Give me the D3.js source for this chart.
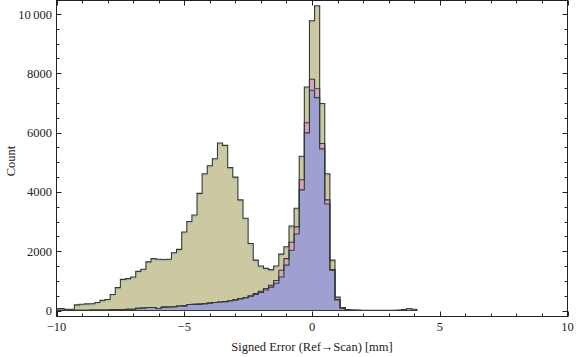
<!DOCTYPE html>
<html>
<head>
<meta charset="utf-8">
<script src="https://cdn.jsdelivr.net/npm/d3@7"></script>
<style>
  body { margin: 0; background: #fff; }
  text { font-family: "Liberation Serif", "DejaVu Serif", serif; fill: #222; }
</style>
</head>
<body>
<div id="chart"></div>
<script>
// histogram bins: centers at -10, -9.8, ... 4.0 (width 0.2)
const binWidth = 0.2;
const binFirst = -10;

// counts per bin
const countsAll = [
  70, 70, 40, 40, 190, 210, 225, 230, 270, 340,
  370, 540, 770, 1050, 1075, 1130, 1320, 1390, 1640, 1750,
  1730, 1720, 1730, 1950, 2060, 2650, 3000, 3220, 3950, 4610,
  4880, 5120, 5650, 5570, 4820, 4500, 3730, 3110, 2260, 1700,
  1500, 1420, 1380, 1500, 1900, 2150, 2850, 3450, 5200, 7540,
  9770, 10280, 6980, 4610, 1700, 450, 90, 35, 12, 6,
  4, 3, 3, 3, 4, 5, 6, 12, 30, 70,
  40
];
const countsPink = [
  10, 10, 10, 10, 10, 10, 10, 12, 12, 15,
  15, 35, 35, 35, 40, 40, 75, 85, 100, 100,
  70, 115, 120, 125, 150, 155, 200, 205, 215, 230,
  250, 270, 285, 300, 330, 360, 400, 430, 500, 570,
  650, 740, 850, 1010, 1360, 1750, 2300, 2820, 4410, 6330,
  7800, 7480, 5630, 3730, 1380, 370, 87, 31, 10, 4,
  2, 1, 1, 1, 1, 1, 1, 1, 1, 1,
  1
];
const countsBlue = [
  10, 10, 10, 10, 10, 10, 10, 12, 12, 15,
  15, 35, 35, 35, 40, 40, 75, 85, 100, 100,
  70, 115, 120, 125, 150, 155, 200, 205, 215, 230,
  250, 270, 285, 300, 330, 360, 400, 430, 480, 540,
  610, 690, 790, 920, 1130, 1530, 2030, 2580, 4070, 5990,
  7430, 7180, 5450, 3590, 1360, 360, 85, 30, 10, 4,
  2, 1, 1, 1, 1, 1, 1, 1, 1, 1,
  1
];

const xMajor = [-10, -5, 0, 5, 10];
const xMajorLabels = ["\u221210", "\u22125", "0", "5", "10"];
const xMinor = [-9, -8, -7, -6, -4, -3, -2, -1, 1, 2, 3, 4, 6, 7, 8, 9];
const yMajor = [0, 2000, 4000, 6000, 8000, 10000];
const yMajorLabels = ["0", "2000", "4000", "6000", "8000", "10\u2009000"];
const yMinor = [500, 1000, 1500, 2500, 3000, 3500, 4500, 5000, 5500, 6500, 7000, 7500, 8500, 9000, 9500];

const W = 576, H = 357;
const frame = { left: 56.5, right: 567.5, top: 0.5, bottom: 316.5 };

const svg = d3.select("#chart").append("svg")
    .attr("width", W)
    .attr("height", H);

const x = d3.scaleLinear().domain([-10, 10]).range([56.5, 567.5]);
const y = d3.scaleLinear().domain([0, 10000]).range([310.5, 14]);

svg.append("clipPath").attr("id", "clip")
  .append("rect")
    .attr("x", frame.left).attr("y", frame.top)
    .attr("width", frame.right - frame.left)
    .attr("height", frame.bottom - frame.top);

function steps(counts) {
    let pts = [];
    counts.forEach(function (v, i) {
        let c = binFirst + i * binWidth;
        pts.push([c - binWidth / 2, v]);
        pts.push([c + binWidth / 2, v]);
    });
    return pts;
}

const area = d3.area()
    .x(function (d) { return x(d[0]); })
    .y0(y(0))
    .y1(function (d) { return y(d[1]); });

const outline = d3.line()
    .x(function (d) { return x(d[0]); })
    .y(function (d) { return y(d[1]); });

function closed(pts) {
    let first = pts[0][0], last = pts[pts.length - 1][0];
    return [[first, 0]].concat(pts, [[last, 0], [first, 0]]);
}

const g = svg.append("g").attr("clip-path", "url(#clip)");

const series = [
    { counts: countsAll, fill: "#ccc8a2" },
    { counts: countsPink, fill: "#d5a4c4" },
    { counts: countsBlue, fill: "#a09fd2" }
];

series.forEach(function (s, si) {
    let pts = steps(s.counts);
    g.append("path")
        .attr("d", area(pts))
        .attr("fill", s.fill);
    if (si === 0) {
        // light green rim under the top edge of each bar
        g.selectAll("rect.rim")
            .data(s.counts)
            .enter()
            .append("rect")
            .attr("class", "rim")
            .attr("x", function (d, i) { return x(binFirst + i * binWidth - binWidth / 2); })
            .attr("y", function (d) { return y(d); })
            .attr("width", x(binWidth) - x(0))
            .attr("height", function (d) { return Math.min(2.2, y(0) - y(d)); })
            .attr("fill", "#a6c5a6");
    }
});

series.forEach(function (s) {
    g.append("path")
        .attr("d", outline(closed(steps(s.counts))))
        .attr("fill", "none")
        .attr("stroke", "#333a33")
        .attr("stroke-width", 1.1)
        .attr("stroke-linejoin", "miter");
});

// frame
svg.append("rect")
    .attr("x", frame.left).attr("y", frame.top)
    .attr("width", frame.right - frame.left)
    .attr("height", frame.bottom - frame.top)
    .attr("fill", "none")
    .attr("stroke", "#222")
    .attr("stroke-width", 1);

// ticks (inward, all four sides)
const ticks = svg.append("g").attr("stroke", "#222").attr("stroke-width", 1);
function tickX(vals, len) {
    vals.forEach(function (v) {
        let px = Math.round(x(v)) + 0.5;
        ticks.append("line").attr("x1", px).attr("x2", px)
            .attr("y1", frame.bottom).attr("y2", frame.bottom - len);
        ticks.append("line").attr("x1", px).attr("x2", px)
            .attr("y1", frame.top).attr("y2", frame.top + len);
    });
}
function tickY(vals, len) {
    vals.forEach(function (v) {
        let py = Math.round(y(v)) + 0.5;
        ticks.append("line").attr("y1", py).attr("y2", py)
            .attr("x1", frame.left).attr("x2", frame.left + len);
        ticks.append("line").attr("y1", py).attr("y2", py)
            .attr("x1", frame.right).attr("x2", frame.right - len);
    });
}
tickX(xMajor, 5); tickX(xMinor, 3);
tickY(yMajor, 5); tickY(yMinor, 3);

svg.append("g").selectAll("text")
    .data(xMajor)
    .enter()
    .append("text")
    .attr("x", function (d) { return x(d); })
    .attr("y", 331)
    .attr("text-anchor", "middle")
    .style("font-size", "12.5px")
    .text(function (d, i) { return xMajorLabels[i]; });

svg.append("g").selectAll("text")
    .data(yMajor)
    .enter()
    .append("text")
    .attr("x", 52)
    .attr("y", function (d) { return y(d) + 4.5; })
    .attr("text-anchor", "end")
    .style("font-size", "12.5px")
    .text(function (d, i) { return yMajorLabels[i]; });

svg.append("text")
    .attr("x", 312)
    .attr("y", 351)
    .attr("text-anchor", "middle")
    .style("font-size", "12.5px")
    .text("Signed Error (Ref\u2192Scan) [mm]");

svg.append("text")
    .attr("transform", "translate(15,161) rotate(-90)")
    .attr("text-anchor", "middle")
    .style("font-size", "12.5px")
    .text("Count");
</script>
</body>
</html>
